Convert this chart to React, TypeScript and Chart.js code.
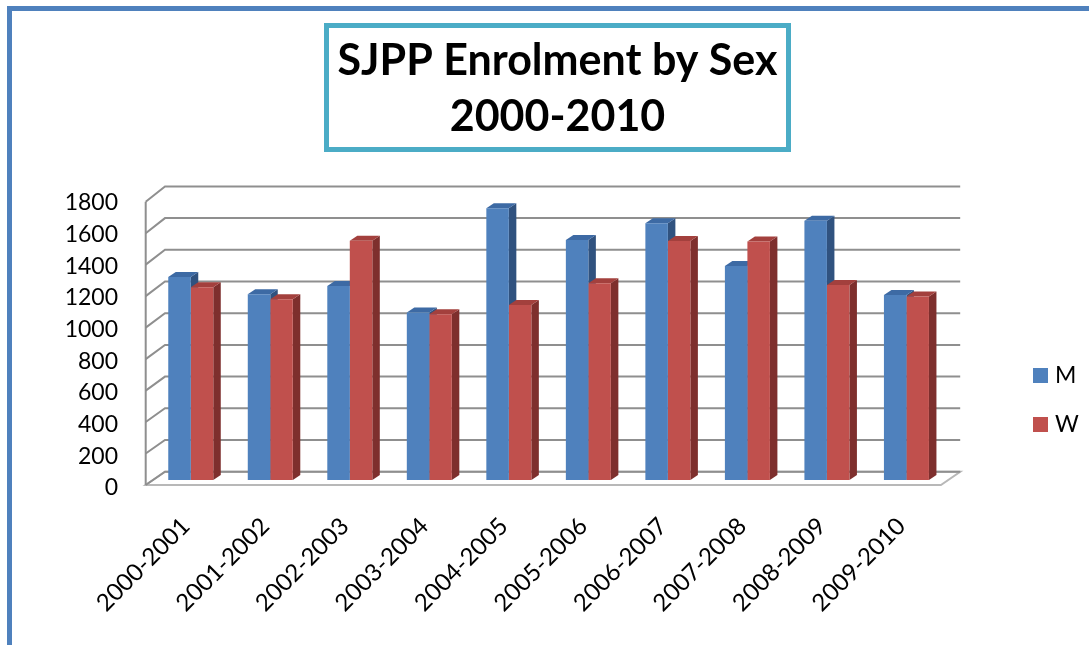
import React, { useEffect, useRef } from 'react';
import { Chart, registerables } from 'chart.js';

Chart.register(...registerables);

// ---------- data ----------
const TITLE_LINES = ['SJPP Enrolment by Sex', '2000-2010'];
const CATEGORIES = [
  '2000-2001', '2001-2002', '2002-2003', '2003-2004', '2004-2005',
  '2005-2006', '2006-2007', '2007-2008', '2008-2009', '2009-2010',
];
const SERIES_NAMES = ['M', 'W'];
const M_VALUES = [1280, 1172, 1224, 1056, 1714, 1514, 1620, 1350, 1636, 1167];
const W_VALUES = [1216, 1140, 1510, 1045, 1104, 1241, 1508, 1504, 1230, 1157];
const Y_TICKS = [0, 200, 400, 600, 800, 1000, 1200, 1400, 1600, 1800];

// ---------- styles ----------
const FONT = 'Lato, "Open Sans", "DejaVu Sans", sans-serif';
const FRONT_COLORS = ['#4f81bd', '#c0504d'];
const TOP_COLORS = ['#3d6aa4', '#a3403d'];
const SIDE_COLORS = ['#30527f', '#7e2f2d'];

const DEPTH = {
  frontDx: -5.3,
  frontDy0: 5,
  frontDy1: 7,
  backDx: 14,
  backDy: -8.3,
  barDx: 7.5,
  barDy: -5,
};

const depthPlugin = {
  id: 'depth3d',
  beforeDatasetsDraw(chart: any) {
    const { ctx, chartArea: a, scales } = chart;
    const ys = scales.y;
    const max = ys.max;
    const y0 = ys.getPixelForValue(0);
    const fdy = (v: number) => DEPTH.frontDy0 + (DEPTH.frontDy1 - DEPTH.frontDy0) * (v / max);
    ctx.save();
    // floor
    ctx.beginPath();
    ctx.moveTo(a.left + DEPTH.frontDx, y0 + DEPTH.frontDy0);
    ctx.lineTo(a.right + DEPTH.frontDx, y0 + DEPTH.frontDy0);
    ctx.lineTo(a.right + DEPTH.backDx, y0 + DEPTH.backDy);
    ctx.lineTo(a.left + DEPTH.backDx, y0 + DEPTH.backDy);
    ctx.closePath();
    ctx.fillStyle = '#ffffff';
    ctx.fill();
    ctx.lineWidth = 2;
    ctx.strokeStyle = '#b8b8b8';
    ctx.stroke();
    // grid lines: side wall + back wall
    ctx.strokeStyle = '#8f8f8f';
    ctx.lineWidth = 2;
    ys.ticks.forEach((t: any) => {
      const py = ys.getPixelForValue(t.value);
      ctx.beginPath();
      ctx.moveTo(a.left + DEPTH.frontDx, py + fdy(t.value));
      ctx.lineTo(a.left + DEPTH.backDx, py + DEPTH.backDy);
      ctx.lineTo(a.right + DEPTH.backDx, py + DEPTH.backDy);
      ctx.stroke();
    });
    // front vertical edge of side wall
    const yTop = ys.getPixelForValue(max);
    ctx.beginPath();
    ctx.moveTo(a.left + DEPTH.frontDx, y0 + fdy(0));
    ctx.lineTo(a.left + DEPTH.frontDx, yTop + fdy(max));
    ctx.stroke();
    // bar sides and tops (fronts drawn by Chart.js afterwards)
    chart.data.datasets.forEach((ds: any, di: number) => {
      if (!chart.isDatasetVisible(di)) return;
      const meta = chart.getDatasetMeta(di);
      meta.data.forEach((bar: any) => {
        const { x, y, base, width } = bar.getProps(['x', 'y', 'base', 'width'], true);
        const l = x - width / 2;
        const r = x + width / 2;
        ctx.fillStyle = SIDE_COLORS[di];
        ctx.beginPath();
        ctx.moveTo(r, base);
        ctx.lineTo(r, y);
        ctx.lineTo(r + DEPTH.barDx, y + DEPTH.barDy);
        ctx.lineTo(r + DEPTH.barDx, base + DEPTH.barDy);
        ctx.closePath();
        ctx.fill();
        ctx.fillStyle = TOP_COLORS[di];
        ctx.beginPath();
        ctx.moveTo(l, y);
        ctx.lineTo(r, y);
        ctx.lineTo(r + DEPTH.barDx, y + DEPTH.barDy);
        ctx.lineTo(l + DEPTH.barDx, y + DEPTH.barDy);
        ctx.closePath();
        ctx.fill();
      });
    });
    ctx.restore();
  },
};

const titleBoxPlugin = {
  id: 'titleBox',
  afterDraw(chart: any, _args: any, opts: any) {
    const { ctx } = chart;
    const { left, top, width, height, borderWidth, borderColor, baselines, fontSize } = opts;
    ctx.save();
    ctx.fillStyle = '#ffffff';
    ctx.fillRect(left, top, width, height);
    ctx.lineWidth = borderWidth;
    ctx.strokeStyle = borderColor;
    ctx.strokeRect(left + borderWidth / 2, top + borderWidth / 2, width - borderWidth, height - borderWidth);
    ctx.fillStyle = '#000000';
    ctx.font = `bold ${fontSize}px ${FONT}`;
    ctx.textAlign = 'center';
    ctx.textBaseline = 'alphabetic';
    TITLE_LINES.forEach((line, i) => {
      ctx.fillText(line, left + width / 2, baselines[i]);
    });
    ctx.restore();
  },
};

const sideLegendPlugin = {
  id: 'sideLegend',
  afterDraw(chart: any, _args: any, opts: any) {
    const { ctx } = chart;
    const { boxX, textX, firstBaseline, rowGap, boxSize, fontSize } = opts;
    ctx.save();
    ctx.font = `${fontSize}px ${FONT}`;
    ctx.textAlign = 'left';
    ctx.textBaseline = 'alphabetic';
    chart.data.datasets.forEach((ds: any, i: number) => {
      const base = firstBaseline + i * rowGap;
      ctx.fillStyle = ds.backgroundColor;
      ctx.fillRect(boxX, base - boxSize, boxSize, boxSize);
      ctx.fillStyle = '#000000';
      ctx.fillText(ds.label, textX, base);
    });
    ctx.restore();
  },
};

export default function App() {
  const ref = useRef<HTMLCanvasElement>(null);

  useEffect(() => {
    if (!ref.current) return;
    const chart = new Chart(ref.current, {
      type: 'bar',
      data: {
        labels: CATEGORIES,
        datasets: [
          {
            label: SERIES_NAMES[0],
            data: M_VALUES,
            backgroundColor: FRONT_COLORS[0],
            borderWidth: 0,
            categoryPercentage: 0.566,
            barPercentage: 1,
          },
          {
            label: SERIES_NAMES[1],
            data: W_VALUES,
            backgroundColor: FRONT_COLORS[1],
            borderWidth: 0,
            categoryPercentage: 0.566,
            barPercentage: 1,
          },
        ],
      },
      options: {
        responsive: false,
        animation: false,
        events: [],
        layout: { padding: { left: 0, top: 194.7, right: 142.8, bottom: 0 } },
        plugins: {
          legend: { display: false },
          title: { display: false },
          tooltip: { enabled: false },
          titleBox: {
            left: 324,
            top: 23,
            width: 467,
            height: 129,
            borderWidth: 5,
            borderColor: '#4bacc6',
            baselines: [74.5, 131],
            fontSize: 43,
          },
          sideLegend: {
            boxX: 1033,
            textX: 1055,
            firstBaseline: 383,
            rowGap: 49,
            boxSize: 15,
            fontSize: 23,
          },
        } as any,
        scales: {
          x: {
            grid: { display: false, drawTicks: false },
            border: { display: false },
            ticks: {
              autoSkip: false,
              minRotation: 45,
              maxRotation: 45,
              padding: 32,
              labelOffset: -5,
              color: '#000000',
              font: { family: FONT, size: 24 },
            },
            afterFit: (s: any) => {
              s.height = 165;
            },
          },
          y: {
            min: 0,
            max: 1800,
            grid: { display: false, drawTicks: false },
            border: { display: false },
            afterBuildTicks: (s: any) => {
              s.ticks = Y_TICKS.map((v) => ({ value: v }));
            },
            ticks: {
              padding: 33,
              labelOffset: 8,
              color: '#000000',
              font: { family: FONT, size: 23 },
              callback: (v: any) => String(v),
            },
            afterFit: (s: any) => {
              s.width = 151;
            },
          },
        },
      },
      plugins: [depthPlugin, titleBoxPlugin, sideLegendPlugin],
    } as any);
    return () => chart.destroy();
  }, []);

  return (
    <div
      style={{
        position: 'absolute',
        left: 0,
        top: 0,
        width: 1089,
        height: 645,
        background: '#ffffff',
        overflow: 'hidden',
      }}
    >
      <canvas ref={ref} width={1089} height={645} style={{ display: 'block' }} />
      <div
        style={{
          position: 'absolute',
          left: 7,
          top: 6,
          right: -10,
          bottom: -10,
          borderTop: '5px solid #4f81bd',
          borderLeft: '5px solid #4f81bd',
          pointerEvents: 'none',
        }}
      />
    </div>
  );
}
